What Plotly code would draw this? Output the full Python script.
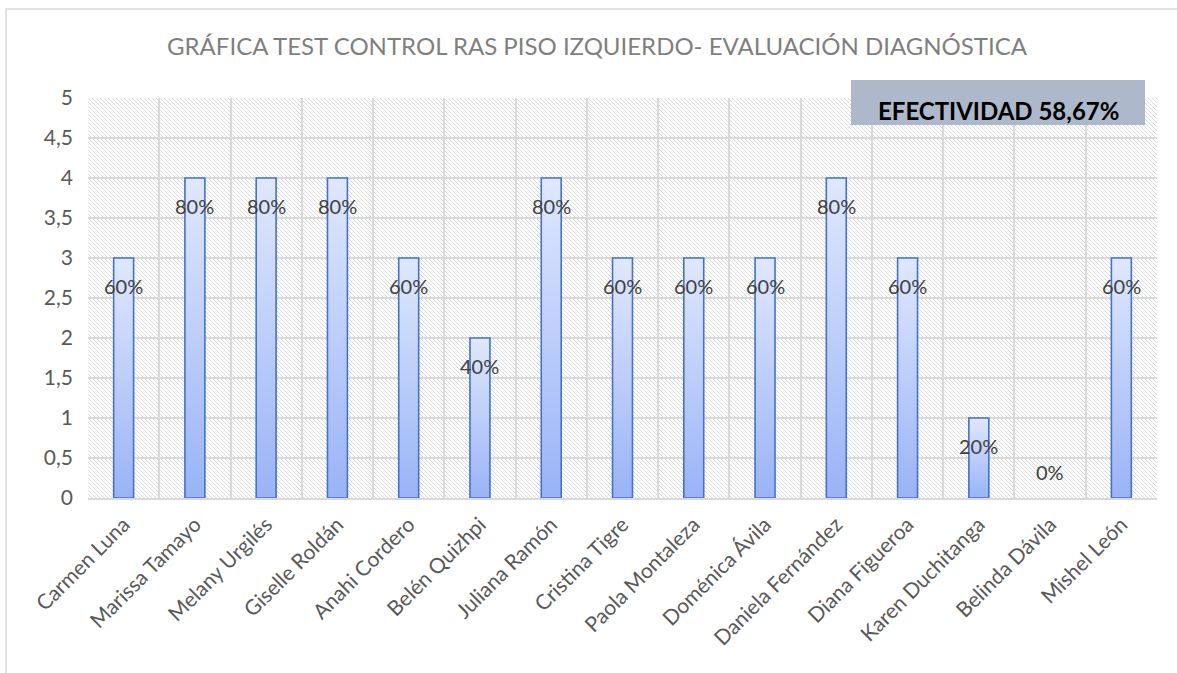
import base64
import plotly.graph_objects as go

# Students and test scores (out of 5)
students = ["Carmen Luna", "Marissa Tamayo", "Melany Urgilés", "Giselle Roldán",
            "Anahi Cordero", "Belén Quizhpi", "Juliana Ramón", "Cristina Tigre",
            "Paola Montaleza", "Doménica Ávila", "Daniela Fernández", "Diana Figueroa",
            "Karen Duchitanga", "Belinda Dávila", "Mishel León"]
scores = [3, 4, 4, 4, 3, 2, 4, 3, 3, 3, 4, 3, 1, 0, 3]
max_score = 5
y_ticks = [0, 0.5, 1, 1.5, 2, 2.5, 3, 3.5, 4, 4.5, 5]
title_text = "GRÁFICA TEST CONTROL RAS PISO IZQUIERDO- EVALUACIÓN DIAGNÓSTICA"
effectiveness = 58.67

W, H = 1177, 673
ML, MR, MT, MB = 88, 20, 98, 175
PW, PH = W - ML - MR, H - MT - MB
FONT = "Lato, 'Open Sans', sans-serif"
BAR_HALF = 0.14

fig = go.Figure()

# Bars as filled polygons so they can carry a vertical gradient
for i, v in enumerate(scores):
    if v <= 0:
        continue
    xs = [i - BAR_HALF, i + BAR_HALF, i + BAR_HALF, i - BAR_HALF, i - BAR_HALF]
    ys = [0, 0, v, v, 0]
    fig.add_trace(go.Scatter(
        x=xs, y=ys, mode="lines", fill="toself",
        line=dict(color="#4472c4", width=1.6),
        fillgradient=dict(type="vertical",
                          colorscale=[[0, "#99b3f6"], [1, "#e0e8fd"]]),
        hoverinfo="skip", showlegend=False,
    ))

# Percentage labels, computed from each score (inside the bar top; above the axis for zero)
for i, v in enumerate(scores):
    pct = round(v / max_score * 100)
    fig.add_annotation(x=i, y=v, text=f"{pct}%", showarrow=False,
                       yshift=-28 if v > 0 else 26,
                       font=dict(family=FONT, size=20, color="#404040"))

# Diagonal hatch texture for the plot area
svg = (f'<svg xmlns="http://www.w3.org/2000/svg" width="{PW}" height="{PH}">'
       '<defs><pattern id="p" width="4" height="4" patternUnits="userSpaceOnUse">'
       '<path d="M-1,-1 L5,5 M3,-1 L5,1 M-1,3 L1,5" stroke="#dadada" stroke-width="1"/>'
       '</pattern></defs>'
       '<rect width="100%" height="100%" fill="#ffffff"/>'
       '<rect width="100%" height="100%" fill="url(#p)"/></svg>')
src = "data:image/svg+xml;base64," + base64.b64encode(svg.encode()).decode()
fig.add_layout_image(source=src, xref="paper", yref="paper", x=0, y=1,
                     sizex=1, sizey=1, xanchor="left", yanchor="top",
                     sizing="stretch", layer="below")


def px_x(p):
    return (p - ML) / PW


def px_y(p):
    return (H - MB - p) / PH


# Outer chart frame
fig.add_shape(type="rect", xref="paper", yref="paper",
              x0=px_x(6), x1=px_x(1190), y0=px_y(690), y1=px_y(9),
              line=dict(color="#d9d9d9", width=1.5), fillcolor="rgba(0,0,0,0)",
              layer="below")

# Effectiveness badge
fig.add_shape(type="rect", xref="paper", yref="paper",
              x0=px_x(851), x1=px_x(1145), y0=px_y(125), y1=px_y(80),
              line=dict(width=0), fillcolor="#adb9ca", layer="above")
eff_label = f"{effectiveness:.2f}".replace(".", ",")
fig.add_annotation(xref="paper", yref="paper", x=px_x(998), y=px_y(110),
                   text=f"<b>EFECTIVIDAD {eff_label}%</b>", showarrow=False,
                   xanchor="center", yanchor="middle",
                   font=dict(family=FONT, size=24, color="#000000"))

fig.update_layout(
    width=W, height=H,
    margin=dict(l=ML, r=MR, t=MT, b=MB),
    paper_bgcolor="#ffffff", plot_bgcolor="#ffffff",
    separators=",.",
    title=dict(text=title_text, xref="container", yref="container",
               x=597 / W, y=1 - 47 / H, xanchor="center", yanchor="middle",
               font=dict(family=FONT, size=24, color="#7f7f7f")),
    xaxis=dict(range=[-0.5, len(students) - 0.5], tickmode="array",
               tickvals=list(range(len(students))), ticktext=students,
               tickangle=-45, showgrid=False, zeroline=False,
               showline=True, linecolor="#d9d9d9", linewidth=2,
               ticks="", ticklabelstandoff=4,
               tickfont=dict(family=FONT, size=21, color="#595959"),
               minor=dict(tickmode="array",
                          tickvals=[i - 0.5 for i in range(len(students) + 1)],
                          showgrid=True, gridcolor="#d9d9d9", gridwidth=2, ticks=""),
               fixedrange=True),
    yaxis=dict(range=[0, max_score], tickmode="array", tickvals=y_ticks,
               showgrid=True, gridcolor="#d9d9d9", gridwidth=2, zeroline=False,
               ticks="", ticklabelstandoff=14,
               tickfont=dict(family=FONT, size=21, color="#595959"),
               fixedrange=True),
)

fig.write_html("out.html")
